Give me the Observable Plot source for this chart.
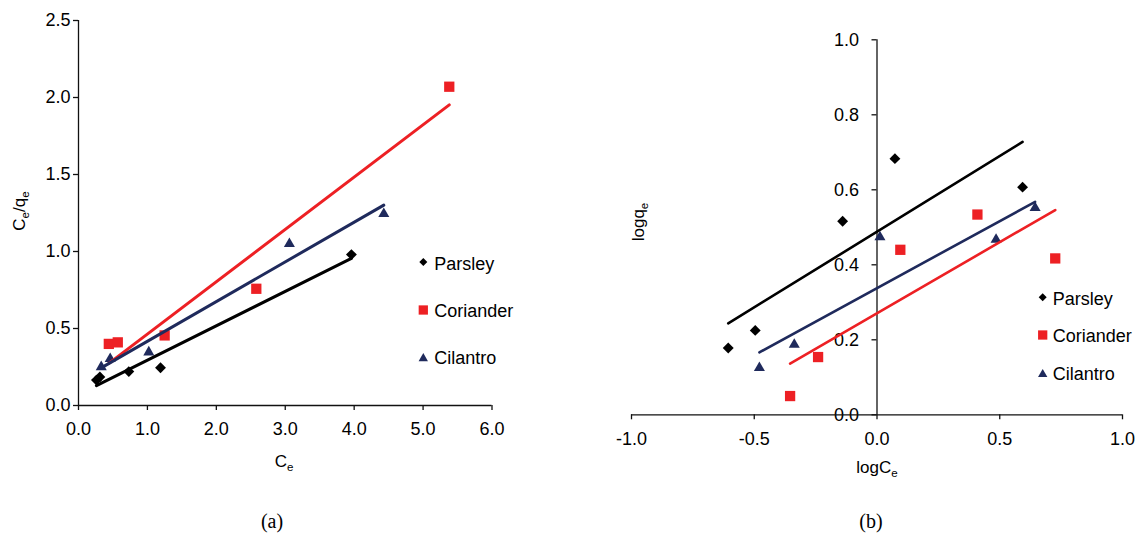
<!DOCTYPE html>
<html>
<head>
<meta charset="utf-8">
<script src="https://cdn.jsdelivr.net/npm/d3@7"></script>
<script src="https://cdn.jsdelivr.net/npm/@observablehq/plot@0.6"></script>
<style>
  body { margin: 0; background: #fff; }
  #wrap { position: relative; width: 1145px; height: 533px; overflow: hidden; background: #fff; }
</style>
</head>
<body>
<div id="wrap"></div>
<script>
// ---------- data ----------
const series = ["Parsley", "Coriander", "Cilantro"];
const colors = ["#000000", "#ed2024", "#1f2a5c"];
const symbols = ["diamond2", "square", "triangle"];

// (a) Ce vs Ce/qe
const aParsleyX   = [0.26, 0.31, 0.73, 1.19, 3.96];
const aParsleyY   = [0.165, 0.185, 0.22, 0.245, 0.98];
const aCorianderX = [0.44, 0.57, 1.25, 2.58, 5.38];
const aCorianderY = [0.40, 0.41, 0.455, 0.758, 2.07];
const aCilantroX  = [0.33, 0.46, 1.02, 3.06, 4.43];
const aCilantroY  = [0.25, 0.303, 0.346, 1.05, 1.245];
const aXTicks = [0, 1, 2, 3, 4, 5, 6];
const aYTicks = [0, 0.5, 1.0, 1.5, 2.0, 2.5];

// (b) logCe vs logqe
const bParsleyX   = [-0.606, -0.496, -0.14, 0.073, 0.593];
const bParsleyY   = [0.178, 0.225, 0.516, 0.683, 0.607];
const bCorianderX = [-0.354, -0.24, 0.095, 0.409, 0.726];
const bCorianderY = [0.050, 0.154, 0.44, 0.534, 0.417];
const bCilantroX  = [-0.479, -0.337, 0.012, 0.485, 0.644];
const bCilantroY  = [0.125, 0.187, 0.474, 0.467, 0.552];
const bXTicks = [-1, -0.5, 0, 0.5, 1];
const bYTicks = [0, 0.2, 0.4, 0.6, 0.8, 1.0];

// ---------- helpers ----------
const FONT = "'Liberation Sans', Arial, Helvetica, sans-serif";
const rows = (xs, ys) => xs.map((x, i) => ({x, y: ys[i]}));
const markerR = {diamond2: 4.9, square: 5.8, triangle: 4.1};
const fmt = d => d.toFixed(1);

function seriesMarks(sets, lineWidth) {
  const dots = sets.map((d, i) => Plot.dot(d, {
    x: "x", y: "y", symbol: symbols[i], r: markerR[symbols[i]],
    fill: colors[i], stroke: "none"
  }));
  const lines = sets.map((d, i) => Plot.linearRegressionY(d, {
    x: "x", y: "y", stroke: colors[i], strokeWidth: lineWidth, ci: 0
  }));
  return [...dots, ...lines];
}

const wrap = document.getElementById("wrap");
function place(el, left, top) {
  el.style.position = "absolute";
  el.style.left = left + "px";
  el.style.top = top + "px";
  wrap.appendChild(el);
}

const baseStyle = {fontFamily: FONT, fontSize: "18px", color: "#000", background: "transparent", overflow: "visible"};
const axisStyle = {label: null, tickFormat: fmt, stroke: "#111", strokeWidth: 1.3, fontSize: 18};

// ---------- panel (a) ----------
const setsA = [rows(aParsleyX, aParsleyY), rows(aCorianderX, aCorianderY), rows(aCilantroX, aCilantroY)];
const plotA = Plot.plot({
  width: 560, height: 480,
  marginLeft: 78, marginRight: 68.5, marginTop: 20, marginBottom: 75,
  style: baseStyle,
  x: {domain: [0, 6]},
  y: {domain: [0, 2.5]},
  marks: [
    Plot.axisX(aXTicks, {...axisStyle, tickSize: 5, tickPadding: 12}),
    Plot.axisY(aYTicks, {...axisStyle, tickSize: 5, tickPadding: 3}),
    Plot.ruleY([0], {stroke: "#111", strokeWidth: 1.3}),
    Plot.ruleX([0], {stroke: "#111", strokeWidth: 1.3}),
    ...seriesMarks(setsA, 3)
  ]
});
place(plotA, 0, 0);

// ---------- panel (b) ----------
const setsB = [rows(bParsleyX, bParsleyY), rows(bCorianderX, bCorianderY), rows(bCilantroX, bCilantroY)];
const plotB = Plot.plot({
  width: 573, height: 480,
  marginLeft: 59, marginRight: 23, marginTop: 39.3, marginBottom: 65.7,
  style: baseStyle,
  x: {domain: [-1, 1]},
  y: {domain: [0, 1]},
  marks: [
    Plot.axisX(bXTicks, {...axisStyle, tickSize: 5, tickPadding: 12}),
    Plot.axisY(bYTicks, {...axisStyle, x: 0, tickSize: 5, tickPadding: 13}),
    Plot.ruleY([0], {stroke: "#111", strokeWidth: 1.3}),
    Plot.ruleX([0], {stroke: "#111", strokeWidth: 1.3}),
    ...seriesMarks(setsB, 2.6)
  ]
});
place(plotB, 572, 0);

// ---------- titles, captions, legends (overlay) ----------
const ov = d3.create("svg")
  .attr("width", 1145).attr("height", 533)
  .style("position", "absolute").style("left", "0px").style("top", "0px")
  .style("font-family", FONT).style("pointer-events", "none");

function subText(g, parts, size) {
  const t = g.append("text").attr("font-size", size).attr("fill", "#000");
  let shifted = false;
  parts.forEach(([s, sub]) => {
    const ts = t.append("tspan").text(s);
    if (sub && !shifted) { ts.attr("dy", size * 0.25).attr("font-size", size * 0.68); shifted = true; }
    else if (!sub && shifted) { ts.attr("dy", -size * 0.25); shifted = false; }
  });
  return t;
}

// x-axis titles
subText(ov, [["C", false], ["e", true]], 17).attr("x", 284).attr("y", 467).attr("text-anchor", "middle");
subText(ov, [["logC", false], ["e", true]], 17).attr("x", 877).attr("y", 472.5).attr("text-anchor", "middle");
// y-axis titles
subText(ov, [["C", false], ["e", true], ["/q", false], ["e", true]], 17)
  .attr("text-anchor", "middle").attr("transform", "translate(25,211) rotate(-90)");
subText(ov, [["logq", false], ["e", true]], 17)
  .attr("text-anchor", "middle").attr("transform", "translate(644,222) rotate(-90)");
// captions
ov.append("text").attr("x", 272).attr("y", 528).attr("text-anchor", "middle")
  .attr("font-family", "'Liberation Serif', 'Times New Roman', serif").attr("font-size", 20).text("(a)");
ov.append("text").attr("x", 871).attr("y", 528).attr("text-anchor", "middle")
  .attr("font-family", "'Liberation Serif', 'Times New Roman', serif").attr("font-size", 20).text("(b)");

// legends
const legendSize = {diamond2: 41, square: 86, triangle: 38};
const d3sym = {diamond2: d3.symbolDiamond2, square: d3.symbolSquare, triangle: d3.symbolTriangle};
function legend(symX, textX, baselines, symYs) {
  series.forEach((name, i) => {
    ov.append("path")
      .attr("d", d3.symbol(d3sym[symbols[i]], legendSize[symbols[i]])())
      .attr("transform", `translate(${symX},${symYs[i]})`)
      .attr("fill", colors[i]);
    ov.append("text").attr("x", textX).attr("y", baselines[i])
      .attr("font-size", 18).attr("fill", "#000").text(name);
  });
}
legend(423.3, 434.3, [270, 316.7, 364], [262, 310, 358.5]);
legend(1042.7, 1052.7, [305, 341.7, 380], [297.3, 335, 374.3]);

wrap.appendChild(ov.node());
</script>
</body>
</html>
